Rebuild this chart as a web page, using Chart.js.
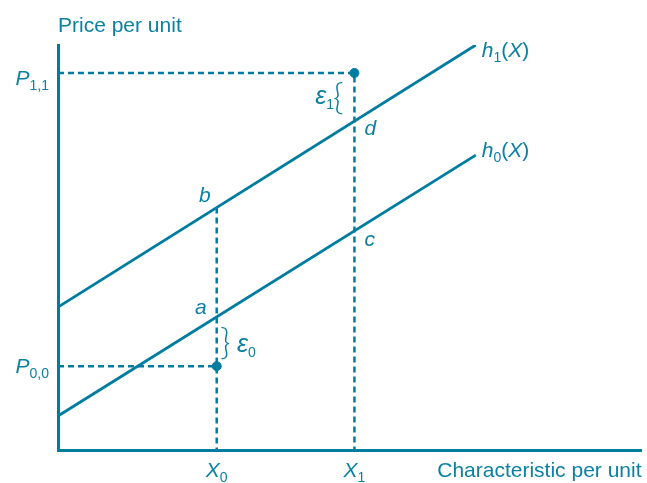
<!DOCTYPE html>
<html lang="en">
<head>
  <meta charset="UTF-8">
  <title>Hedonic price lines</title>
  <script src="https://cdn.jsdelivr.net/npm/chart.js@4.4.1/dist/chart.umd.min.js"></script>
  <style>
    html, body { margin: 0; padding: 0; background: #fff; }
    #wrap { width: 647px; height: 483px; }
  </style>
</head>
<body>
  <div id="wrap"><canvas id="myChart" width="647" height="483"></canvas></div>
  <script>
    // values (axis units 0-100 on both axes)
    const xTicks = [27.2, 50.8];          // X0, X1
    const yTicks = [20.7, 93.1];          // P0,0 , P1,1
    const lineX = [0, 71.6];              // h lines run from the axis to here
    const h1 = [35.3, 100];
    const h0 = [8.4, 72.8];
    const bY = 59.9;                      // h1 at X0 (top of the X0 dashed line)
    const obs = [[27.2, 20.7], [50.8, 93.1]];

    const teal = 'rgb(0,124,160)';
    const textCol = 'rgb(12,128,163)';
    const FONT = '"Liberation Sans", Arial, sans-serif';

    function drawRuns(ctx, runs, x, y, align) {
      const fontOf = r => r.font || ((r.it ? 'italic ' : '') + (r.sub ? '14px ' : (r.size || 21) + 'px ') + FONT);
      let w = 0;
      runs.forEach(r => { ctx.font = fontOf(r); w += ctx.measureText(r.t).width; });
      let cx = align === 'right' ? x - w : align === 'center' ? x - w / 2 : x;
      ctx.textAlign = 'left';
      ctx.textBaseline = 'alphabetic';
      runs.forEach(r => {
        ctx.font = fontOf(r);
        ctx.fillText(r.t, cx, y + (r.sub ? 5 : 0));
        cx += ctx.measureText(r.t).width;
      });
    }

    const braceFont = '300 36px Lato, "Liberation Sans", sans-serif';

    const labels = {
      id: 'labels',
      afterDraw(chart) {
        const ctx = chart.ctx, xs = chart.scales.x, ys = chart.scales.y;
        const px = v => xs.getPixelForValue(v), py = v => ys.getPixelForValue(v);
        ctx.save();
        ctx.fillStyle = textCol;
        drawRuns(ctx, [{ t: 'Price per unit' }], chart.chartArea.left, 32, 'left');
        drawRuns(ctx, [{ t: 'Characteristic per unit' }], chart.chartArea.right, 477, 'right');
        drawRuns(ctx, [{ t: 'P', it: true }, { t: '1,1', sub: true }], 49, py(yTicks[1]) + 12, 'right');
        drawRuns(ctx, [{ t: 'P', it: true }, { t: '0,0', sub: true }], 49, py(yTicks[0]) + 7, 'right');
        drawRuns(ctx, [{ t: 'X', it: true }, { t: '0', sub: true }], px(xTicks[0]), 477, 'center');
        drawRuns(ctx, [{ t: 'X', it: true }, { t: '1', sub: true }], px(xTicks[1]), 477, 'center');
        drawRuns(ctx, [{ t: 'h', it: true }, { t: '1', sub: true }, { t: '(' }, { t: 'X', it: true }, { t: ')' }],
          px(lineX[1]) + 6, py(h1[1]) + 12, 'left');
        drawRuns(ctx, [{ t: 'h', it: true }, { t: '0', sub: true }, { t: '(' }, { t: 'X', it: true }, { t: ')' }],
          px(lineX[1]) + 6, py(h0[1]) + 2, 'left');
        // point letters
        drawRuns(ctx, [{ t: 'b', it: true }], px(xTicks[0]) - 6, py(bY) - 5, 'right');
        drawRuns(ctx, [{ t: 'a', it: true }], px(xTicks[0]) - 10, 314, 'right');
        drawRuns(ctx, [{ t: 'c', it: true }], px(xTicks[1]) + 10, 246, 'left');
        drawRuns(ctx, [{ t: 'd', it: true }], px(xTicks[1]) + 10, 135, 'left');
        // error terms
        drawRuns(ctx, [{ t: 'ε', it: true, size: 25 }, { t: '1', sub: true }], 334, 104, 'right');
        drawRuns(ctx, [{ t: '{', font: braceFont }], 333, 109, 'left');
        drawRuns(ctx, [{ t: '}', font: braceFont }], 220, 354, 'left');
        drawRuns(ctx, [{ t: 'ε', it: true, size: 25 }, { t: '0', sub: true }], 237, 352, 'left');
        ctx.restore();
      }
    };

    const line = (x, y) => x.map((v, i) => ({ x: v, y: y[i] }));
    const dashed = {
      borderColor: teal, borderWidth: 2.5, borderDash: [6, 4],
      pointRadius: 0, showLine: true, fill: false
    };

    const ctx = document.getElementById('myChart').getContext('2d');
    const myChart = new Chart(ctx, {
      type: 'scatter',
      data: {
        datasets: [
          { data: line(lineX, h1), borderColor: teal, borderWidth: 2.8, pointRadius: 0, showLine: true },
          { data: line(lineX, h0), borderColor: teal, borderWidth: 2.8, pointRadius: 0, showLine: true },
          { ...dashed, data: [{ x: 0, y: yTicks[1] }, { x: xTicks[1], y: yTicks[1] }, { x: xTicks[1], y: 0 }] },
          { ...dashed, data: [{ x: 0, y: yTicks[0] }, { x: xTicks[0], y: yTicks[0] }] },
          { ...dashed, data: [{ x: xTicks[0], y: bY }, { x: xTicks[0], y: 0 }] },
          { data: obs.map(p => ({ x: p[0], y: p[1] })), backgroundColor: teal, borderColor: teal,
            pointRadius: 4.5, showLine: false }
        ]
      },
      options: {
        responsive: false,
        animation: false,
        layout: { padding: { left: 58, right: 4, top: 45, bottom: 33 } },
        plugins: { legend: { display: false }, tooltip: { enabled: false } },
        scales: {
          x: {
            type: 'linear', min: 0, max: 100,
            grid: { display: false, drawTicks: false },
            border: { display: true, color: teal, width: 3 },
            ticks: { display: false },
            afterFit: s => { s.height = 0; }
          },
          y: {
            type: 'linear', min: 0, max: 100,
            grid: { display: false, drawTicks: false },
            border: { display: true, color: teal, width: 3 },
            ticks: { display: false },
            afterFit: s => { s.width = 0; }
          }
        }
      },
      plugins: [labels]
    });
  </script>
</body>
</html>
